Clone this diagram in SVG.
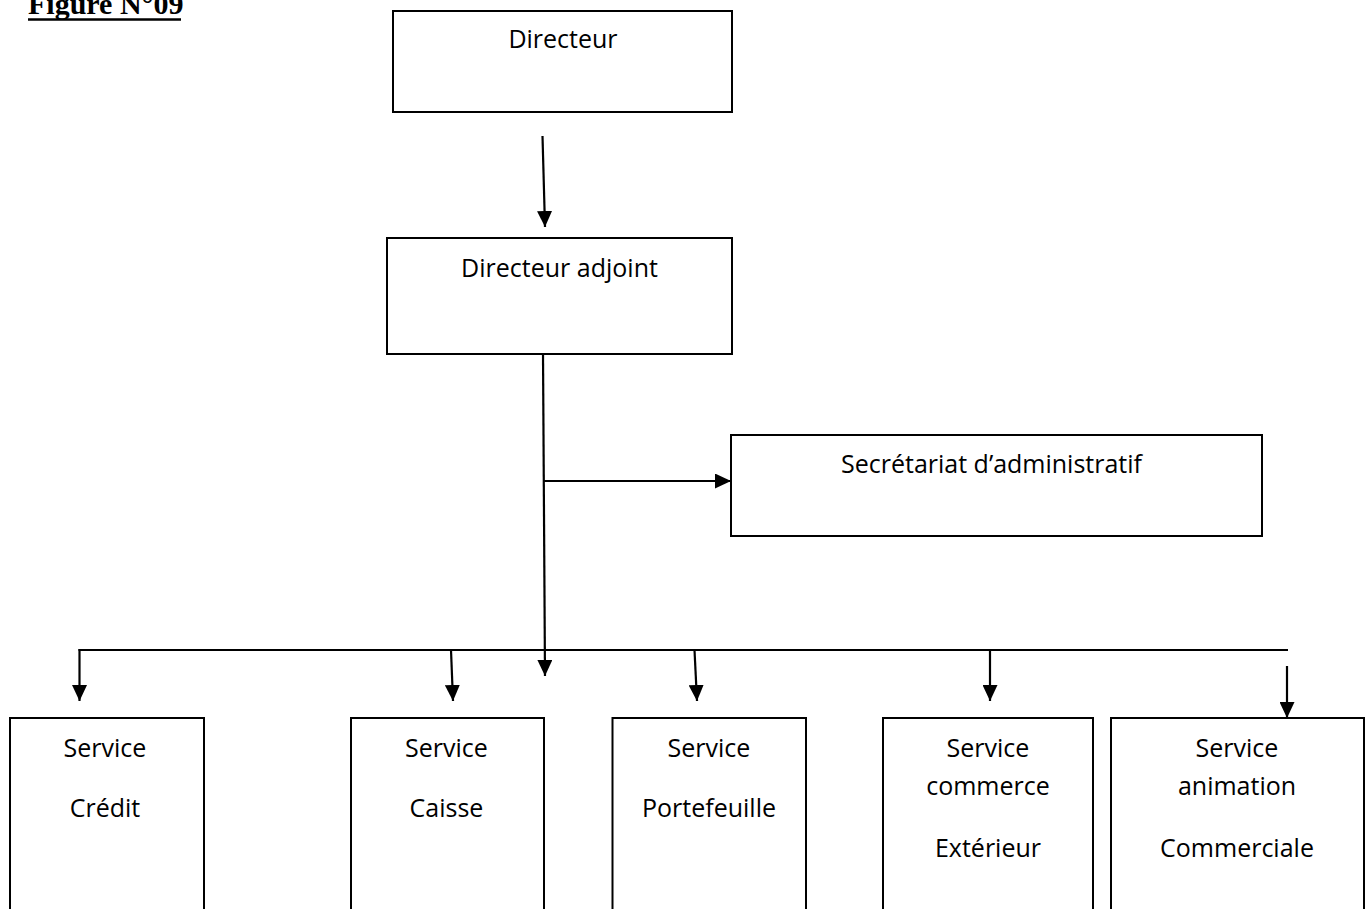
<svg xmlns="http://www.w3.org/2000/svg" width="1370" height="909" viewBox="0 0 1370 909">
<style>
.box{fill:#fff;stroke:#000;stroke-width:2}
.lbl{font-family:"Open Sans","Liberation Sans",sans-serif;font-size:25px;fill:#000;text-anchor:middle}
.ln{stroke:#000;stroke-width:2.2;fill:none}
.title{font-family:"Liberation Serif","Times New Roman",serif;font-size:30px;font-weight:bold;fill:#000}
</style>
<defs>
<marker id="ah" markerUnits="userSpaceOnUse" markerWidth="16" markerHeight="15" refX="16" refY="7.5" orient="auto">
<path d="M0,0 L16,7.5 L0,15 z" fill="#000"/>
</marker>
</defs>
<rect width="1370" height="909" fill="#fff"/>
<g id="title">
<text class="title" x="28" y="14">Figure N°09</text>
<line x1="28" y1="19.5" x2="181" y2="19.5" stroke="#000" stroke-width="2.5"/>
</g>
<g id="connectors">
<line class="ln" x1="542.5" y1="136" x2="545" y2="227" marker-end="url(#ah)"/>
<line class="ln" x1="543" y1="354" x2="545" y2="676" marker-end="url(#ah)"/>
<line class="ln" x1="543" y1="481" x2="731" y2="481" marker-end="url(#ah)"/>
<line class="ln" x1="78.5" y1="650" x2="1288" y2="650"/>
<line class="ln" x1="79.5" y1="649" x2="79.5" y2="701" marker-end="url(#ah)"/>
<line class="ln" x1="451" y1="650" x2="453" y2="701" marker-end="url(#ah)"/>
<line class="ln" x1="694.5" y1="650" x2="697" y2="701" marker-end="url(#ah)"/>
<line class="ln" x1="990" y1="650" x2="990" y2="701" marker-end="url(#ah)"/>
<line class="ln" x1="1287" y1="666" x2="1287" y2="718" marker-end="url(#ah)"/>
</g>
<g id="directeur">
<rect class="box" x="393" y="11" width="339" height="101"/>
<text class="lbl" x="563" y="48">Directeur</text>
</g>
<g id="directeur-adjoint">
<rect class="box" x="387" y="238" width="345" height="116"/>
<text class="lbl" x="559.5" y="277">Directeur adjoint</text>
</g>
<g id="secretariat">
<rect class="box" x="731" y="435" width="531" height="101"/>
<text class="lbl" x="991.5" y="473">Secrétariat d’administratif</text>
</g>
<g id="service-credit">
<path class="box" d="M10,912 V718 H204 V912"/>
<text class="lbl" x="105" y="757">Service</text>
<text class="lbl" x="105" y="817">Crédit</text>
</g>
<g id="service-caisse">
<path class="box" d="M351,912 V718 H544 V912"/>
<text class="lbl" x="446.5" y="757">Service</text>
<text class="lbl" x="446.5" y="817">Caisse</text>
</g>
<g id="service-portefeuille">
<path class="box" d="M612.5,912 V718 H806 V912"/>
<text class="lbl" x="709" y="757">Service</text>
<text class="lbl" x="709" y="817">Portefeuille</text>
</g>
<g id="service-commerce">
<path class="box" d="M883,912 V718 H1093 V912"/>
<text class="lbl" x="988" y="757">Service</text>
<text class="lbl" x="988" y="795">commerce</text>
<text class="lbl" x="988" y="857">Extérieur</text>
</g>
<g id="service-animation">
<path class="box" d="M1111,912 V718 H1364 V912"/>
<text class="lbl" x="1237" y="757">Service</text>
<text class="lbl" x="1237" y="795">animation</text>
<text class="lbl" x="1237" y="857">Commerciale</text>
</g>
</svg>
